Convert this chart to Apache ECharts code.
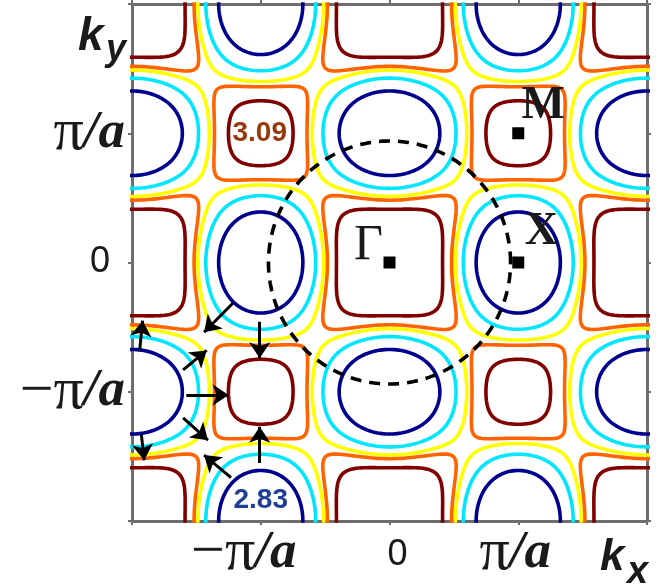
<!DOCTYPE html>
<html><head><meta charset="utf-8">
<script src="https://cdn.jsdelivr.net/npm/echarts@6/dist/echarts.min.js"></script>
<style>html,body{margin:0;padding:0;background:#fff}#c{width:658px;height:586px}</style>
</head><body><div id="c"></div><script>
// Constant-energy contours of the band E(kx, ky); k in units of pi/a.
// E = c0 + c1 (cx+cy) + c2 cx*cy + c3 (cx^2+cy^2) + c4 (c2x*cy + cx*c2y)
const bandCoef = [3.0284, 0.0334, 0.2867, -0.0609, -0.0110];
const levels = [2.83, 2.937, 3.001, 3.029, 3.09];
const levelColors = ['#00008f', '#00e6ff', '#ffff00', '#ff6400', '#800000'];
const kRange = [-2, 2];
const tickValues = [-1, 0, 1];
const tickText = ['−π/a', '0', 'π/a'];
const symNames = ['Γ', 'X', 'M'];
const symPoints = [[0, 0], [1, 0], [1, 1]];
const circleRadius = 0.94;
const arrowFrom = [[-1.215,-0.313],[-1.008,-0.458],[-1.603,-0.831],[-1.578,-1.025],[-1.603,-1.203],[-1.231,-1.665],[-1.008,-1.551],[-1.94,-0.677],[-1.927,-1.334]];
const arrowTo   = [[-1.44,-0.54],[-1.008,-0.74],[-1.42,-0.68],[-1.25,-1.025],[-1.41,-1.375],[-1.44,-1.49],[-1.008,-1.27],[-1.918,-0.45],[-1.905,-1.53]];
const levelLabelAt = [[-1, -1.84], [-1, 1]];   // labels for the lowest and highest level

function band(kx, ky) {
  const x = kx * Math.PI, y = ky * Math.PI;
  const cx = Math.cos(x), cy = Math.cos(y), c2x = Math.cos(2 * x), c2y = Math.cos(2 * y);
  const b = [1, cx + cy, cx * cy, cx * cx + cy * cy, c2x * cy + cx * c2y];
  let s = 0; for (let i = 0; i < b.length; i++) s += bandCoef[i] * b[i];
  return s;
}

// marching squares, joined into polylines
function contour(level) {
  const N = 220, lo = kRange[0] - 0.02, hi = kRange[1] + 0.02, h = (hi - lo) / N, g = [];
  for (let i = 0; i <= N; i++) { g.push([]); for (let j = 0; j <= N; j++) g[i].push(band(lo + i * h, lo + j * h) - level); }
  const pt = {}, segs = [];
  function key(t, i, j) {
    const k = t + i + ',' + j;
    if (!(k in pt)) {
      let a, b, x1 = i, y1 = j;
      if (t === 'h') { a = g[i][j]; b = g[i + 1][j]; x1 = i + 1; } else { a = g[i][j]; b = g[i][j + 1]; y1 = j + 1; }
      const f = a / (a - b);
      pt[k] = [lo + (i + f * (x1 - i)) * h, lo + (j + f * (y1 - j)) * h];
    }
    return k;
  }
  for (let i = 0; i < N; i++) for (let j = 0; j < N; j++) {
    const v0 = g[i][j], v1 = g[i + 1][j], v2 = g[i + 1][j + 1], v3 = g[i][j + 1], e = [];
    if ((v0 > 0) !== (v1 > 0)) e.push(key('h', i, j));
    if ((v1 > 0) !== (v2 > 0)) e.push(key('v', i + 1, j));
    if ((v3 > 0) !== (v2 > 0)) e.push(key('h', i, j + 1));
    if ((v0 > 0) !== (v3 > 0)) e.push(key('v', i, j));
    if (e.length === 2) segs.push(e);
    else if (e.length === 4) {
      const c = (v0 + v1 + v2 + v3) / 4;
      if ((c > 0) === (v0 > 0)) { segs.push([e[0], e[1]]); segs.push([e[2], e[3]]); }
      else { segs.push([e[0], e[3]]); segs.push([e[1], e[2]]); }
    }
  }
  const adj = {};
  segs.forEach((s, n) => s.forEach(k => (adj[k] = adj[k] || []).push(n)));
  const used = new Array(segs.length).fill(false), lines = [];
  for (let n = 0; n < segs.length; n++) {
    if (used[n]) continue; used[n] = true;
    const chain = [segs[n][0], segs[n][1]];
    for (let dir = 0; dir < 2; dir++) {
      let go = true;
      while (go) {
        go = false; const end = chain[chain.length - 1];
        for (const m of adj[end]) if (!used[m]) { used[m] = true; chain.push(segs[m][0] === end ? segs[m][1] : segs[m][0]); go = true; break; }
      }
      chain.reverse();
    }
    lines.push({ coords: chain.map(k => pt[k]) });
  }
  return lines;
}

const series = [];
levels.forEach((lv, i) => series.push({
  type: 'lines', coordinateSystem: 'cartesian2d', polyline: true, silent: true, z: 2,
  data: contour(lv), lineStyle: { color: levelColors[i], width: 3.6, opacity: 1, cap: 'round', join: 'round' }
}));

const circ = [];
for (let i = 0; i <= 360; i++) { const a = i * Math.PI / 180; circ.push([circleRadius * Math.cos(a), circleRadius * Math.sin(a)]); }
series.push({ type: 'line', data: circ, showSymbol: false, silent: true, z: 3, lineStyle: { color: '#000', width: 3.6, type: [11, 8] } });

series.push({
  type: 'lines', coordinateSystem: 'cartesian2d', silent: true, z: 4, symbol: ['none', 'arrow'], symbolSize: 16,
  data: arrowFrom.map((p, i) => ({ coords: [p, arrowTo[i]] })), lineStyle: { color: '#000', width: 3, opacity: 1 }
});

series.push({ type: 'scatter', data: symPoints, symbol: 'rect', symbolSize: 12, silent: true, z: 5, itemStyle: { color: '#000', opacity: 1 } });

const nameStyle = [
  { fontFamily: 'Liberation Serif', fontSize: 50, fontWeight: 'normal', offset: [-21, -17] },
  { fontFamily: 'Liberation Serif', fontSize: 46, fontWeight: 'bold', offset: [23, -30] },
  { fontFamily: 'Liberation Serif', fontSize: 46, fontWeight: 'bold', offset: [25, -27] }
];
const txt = (v, t, st, color) => ({ value: v, label: { show: true, position: 'inside', formatter: t, fontFamily: st.fontFamily, fontSize: st.fontSize, fontWeight: st.fontWeight, color: color, offset: st.offset } });
const tagData = symPoints.map((p, i) => txt(p, symNames[i], nameStyle[i], '#1a1a1a'));
tagData.push(txt(levelLabelAt[0], levels[0].toFixed(2), { fontFamily: 'Liberation Sans', fontSize: 28, fontWeight: 'bold', offset: [0, 0] }, '#203e93'));
tagData.push(txt(levelLabelAt[1], levels[levels.length - 1].toFixed(2), { fontFamily: 'Liberation Sans', fontSize: 28, fontWeight: 'bold', offset: [-1, 0] }, '#963a0e'));
series.push({ type: 'scatter', symbolSize: 1, silent: true, z: 6, itemStyle: { color: 'rgba(0,0,0,0)', opacity: 1 }, data: tagData });

const base = {
  m: { fontFamily: 'Liberation Serif', fontSize: 60, color: '#1a1a1a' },
  p: { fontFamily: 'Liberation Serif', fontSize: 60, color: '#1a1a1a' },
  a: { fontFamily: 'Liberation Serif', fontStyle: 'italic', fontWeight: 'bold', fontSize: 53, color: '#1a1a1a' },
  z: { fontFamily: 'Liberation Sans', fontSize: 36, color: '#1a1a1a' }
};
const richX = Object.assign({}, base, {
  a1: Object.assign({}, base.a, { padding: [0, 34, 0, 0] }),
  a2: Object.assign({}, base.a, { padding: [0, 6, 0, 0] }),
  z: Object.assign({}, base.z, { padding: [14, 0, 0, 16] })
});
const richY = Object.assign({}, base, { a1: base.a, a2: base.a, z: Object.assign({}, base.z, { padding: [0, 15, 0, 0] }) });
function fmt(v) {
  const i = tickValues.indexOf(v);
  if (i < 0) return '';
  const s = tickText[i];
  if (s === '0') return '{z|0}';
  return s.charAt(0) === '−' ? '{m|−}{p|π}{a1|/a}' : '{p|π}{a2|/a}';
}
const ax = {
  type: 'value', min: kRange[0], max: kRange[1], interval: 1,
  axisLine: { onZero: false, lineStyle: { color: '#6e6e6e', width: 3 } },
  axisTick: { lineStyle: { color: '#6e6e6e', width: 2 }, length: 4 },
  splitLine: { show: false }, axisLabel: { show: false }
};

const chart = echarts.init(document.getElementById('c'), null, { renderer: 'canvas' });
chart.setOption({
  animation: false,
  grid: { left: 132, right: 11, top: 4, bottom: 65 },
  xAxis: [Object.assign({}, ax, { position: 'bottom', axisLabel: { show: true, formatter: fmt, rich: richX, margin: 2 } }), Object.assign({}, ax, { position: 'top' })],
  yAxis: [Object.assign({}, ax, { position: 'left', axisLabel: { show: true, formatter: fmt, rich: richY, margin: 7 } }), Object.assign({}, ax, { position: 'right' })],
  series: series,
  graphic: [
    { type: 'text', x: 600, y: 580, style: { text: 'k', font: 'italic bold 44px "Liberation Sans"', fill: '#1a1a1a', verticalAlign: 'bottom', textVerticalAlign: 'bottom' } },
    { type: 'text', x: 627, y: 592, style: { text: 'x', font: 'italic bold 38px "Liberation Sans"', fill: '#1a1a1a', verticalAlign: 'bottom', textVerticalAlign: 'bottom' } },
    { type: 'text', x: 78, y: 60, style: { text: 'k', font: 'italic bold 46px "Liberation Sans"', fill: '#1a1a1a', verticalAlign: 'bottom', textVerticalAlign: 'bottom' } },
    { type: 'text', x: 106, y: 68, style: { text: 'y', font: 'italic bold 36px "Liberation Sans"', fill: '#1a1a1a', verticalAlign: 'bottom', textVerticalAlign: 'bottom' } }
  ]
});
</script></body></html>
